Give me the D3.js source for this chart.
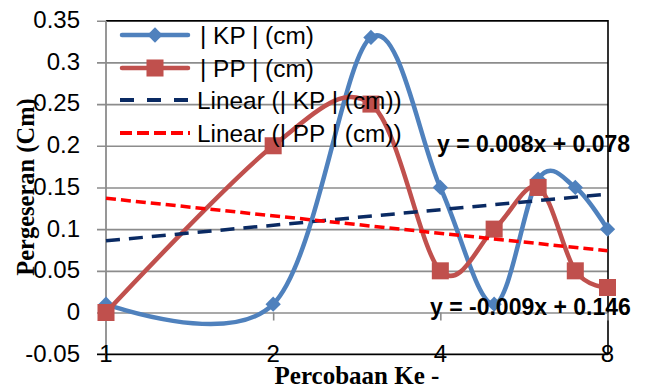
<!DOCTYPE html>
<html>
<head>
<meta charset="utf-8">
<script src="https://cdn.jsdelivr.net/npm/d3@7"></script>
<style>
  html, body { margin: 0; padding: 0; background: #fff; }
  svg { display: block; }
</style>
</head>
<body>
<svg id="chart" width="648" height="392"></svg>
<script>
// Trial number (Percobaan Ke-) and measured displacement in cm
const trials = [1, 2, 3, 4, 5, 6, 7, 8];
const kpValues = [0.01, 0.01, 0.33, 0.15, 0.01, 0.16, 0.15, 0.10];
const ppValues = [0.00, 0.20, 0.25, 0.05, 0.10, 0.15, 0.05, 0.03];
// Linear trend coefficients: [slope, intercept]
const kpTrend = [0.008, 0.078];
const ppTrend = [-0.009, 0.146];
const yTicks = [-0.05, 0, 0.05, 0.1, 0.15, 0.2, 0.25, 0.3, 0.35];
const yTickLabels = ["-0.05", "0", "0.05", "0.1", "0.15", "0.2", "0.25", "0.3", "0.35"];
const xTicks = [1, 2, 4, 8];
const seriesNames = ["| KP | (cm)", "| PP | (cm)", "Linear (| KP | (cm))", "Linear (| PP | (cm))"];
const equationLabels = ["y = 0.008x + 0.078", "y = -0.009x + 0.146"];

const svg = d3.select("#chart");
const plotL = 106, plotR = 608, plotT = 20.7, plotB = 354.2;

const x = d3.scaleLog().base(2).domain([1, 8]).range([plotL, plotR - 0.5]);
const y = d3.scaleLinear().domain([-0.05, 0.35]).range([plotB, plotT]);

const BLUE = "#4F81BD", RED = "#C0504D", NAVY = "#0A2A63", TRED = "#FF0000";
const GRID = "#8C8C8C";
const sansFont = "'Liberation Sans', Arial, sans-serif";
const serifFont = "'Liberation Serif', 'Times New Roman', serif";

// Horizontal gridlines with outside tick marks
const yAxis = d3.axisLeft(y).tickValues(yTicks).tickSize(-(plotR - plotL)).tickPadding(0).tickFormat(() => "");
const gy = svg.append("g").attr("transform", `translate(${plotL},0)`).call(yAxis);
gy.select(".domain").remove();
gy.selectAll(".tick line")
  .attr("x1", -9)
  .attr("stroke", GRID).attr("stroke-width", 1.6);

// Y tick labels
svg.append("g").selectAll("text").data(yTicks).join("text")
  .attr("x", 80).attr("y", d => y(d) - 1)
  .attr("dy", "0.35em")
  .attr("text-anchor", "end")
  .attr("font-family", sansFont).attr("font-size", 24).attr("fill", "#000")
  .text((d, i) => yTickLabels[i]);

// Plot frame: black top, right and bottom edges
svg.append("path")
  .attr("d", `M${plotL},${plotT}H${plotR}V${plotB}H${plotL - 9}`)
  .attr("fill", "none").attr("stroke", "#000").attr("stroke-width", 1.6);

// Vertical value axis line
svg.append("line")
  .attr("x1", plotL).attr("x2", plotL).attr("y1", plotT).attr("y2", plotB + 4)
  .attr("stroke", GRID).attr("stroke-width", 1.8);

// Category axis ticks crossing at zero
const xAxis = d3.axisBottom(x).tickValues(xTicks).tickSize(8).tickFormat(() => "");
const gx = svg.append("g").attr("transform", `translate(0,${y(0)})`).call(xAxis);
gx.select(".domain").remove();
gx.selectAll(".tick line").attr("stroke", GRID).attr("stroke-width", 1.6);

// X tick labels at the bottom edge
svg.append("g").selectAll("text").data(xTicks).join("text")
  .attr("x", d => x(d)).attr("y", 362)
  .attr("text-anchor", "middle")
  .attr("font-family", sansFont).attr("font-size", 24).attr("fill", "#000")
  .text(d => d);

// Smoothed series lines
const line = d3.line()
  .x(d => x(d[0])).y(d => y(d[1]))
  .curve(d3.curveCardinal.tension(0));

const kpPts = trials.map((t, i) => [t, kpValues[i]]);
const ppPts = trials.map((t, i) => [t, ppValues[i]]);

const diamond = d3.symbol().type(d3.symbolDiamond2).size(150);
const square = d3.symbol().type(d3.symbolSquare).size(290);

function drawSeries(pts, color, sym) {
  svg.append("path").datum(pts)
    .attr("d", line)
    .attr("fill", "none").attr("stroke", color)
    .attr("stroke-width", 4.5).attr("stroke-linejoin", "round").attr("stroke-linecap", "round");
  svg.append("g").selectAll("path").data(pts).join("path")
    .attr("transform", d => `translate(${x(d[0])},${y(d[1])})`)
    .attr("d", sym).attr("fill", color);
}
drawSeries(kpPts, BLUE, diamond);
drawSeries(ppPts, RED, square);

// Linear trendlines
function drawTrend(coef, color, dash) {
  const ends = [trials[0], trials[trials.length - 1]].map(t => [t, coef[0] * t + coef[1]]);
  svg.append("path").datum(ends)
    .attr("d", d3.line().x(d => x(d[0])).y(d => y(d[1])))
    .attr("fill", "none").attr("stroke", color).attr("stroke-width", 3.5)
    .attr("stroke-dasharray", dash);
}
drawTrend(kpTrend, NAVY, "14,9");
drawTrend(ppTrend, TRED, "10,5");

// Trendline equations
svg.append("text").attr("x", 437).attr("y", 152)
  .attr("font-family", sansFont).attr("font-weight", "bold").attr("font-size", 23)
  .text(equationLabels[0]);
svg.append("text").attr("x", 430).attr("y", 315)
  .attr("font-family", sansFont).attr("font-weight", "bold").attr("font-size", 23)
  .text(equationLabels[1]);

// Axis titles
svg.append("text")
  .attr("transform", "translate(34,187) rotate(-90)")
  .attr("text-anchor", "middle")
  .attr("font-family", serifFont).attr("font-weight", "bold").attr("font-size", 24.5)
  .text("Pergeseran (Cm)");
svg.append("text")
  .attr("x", 357).attr("y", 384)
  .attr("text-anchor", "middle")
  .attr("font-family", serifFont).attr("font-weight", "bold").attr("font-size", 25)
  .text("Percobaan Ke -");

// Legend
const legend = svg.append("g");
const rowY = [35, 68, 100, 133];
const legendStyles = [
  { color: BLUE, dash: null, width: 4.5, sym: diamond },
  { color: RED, dash: null, width: 4.5, sym: square },
  { color: NAVY, dash: "14,13", width: 4, sym: null },
  { color: TRED, dash: "12,5", width: 4, sym: null }
];
seriesNames.forEach((name, i) => {
  const s = legendStyles[i];
  legend.append("line")
    .attr("x1", s.dash ? 120 : 122).attr("x2", s.dash ? 190 : 188)
    .attr("y1", rowY[i]).attr("y2", rowY[i])
    .attr("stroke", s.color).attr("stroke-width", s.width)
    .attr("stroke-linecap", s.dash ? "butt" : "round")
    .attr("stroke-dasharray", s.dash);
  if (s.sym) {
    legend.append("path")
      .attr("transform", `translate(155,${rowY[i]})`)
      .attr("d", s.sym).attr("fill", s.color);
  }
  legend.append("text")
    .attr("x", i < 2 ? 200 : 197).attr("y", rowY[i])
    .attr("dy", "0.35em")
    .attr("font-family", sansFont).attr("font-size", 24.4)
    .text(name);
});
</script>
</body>
</html>
